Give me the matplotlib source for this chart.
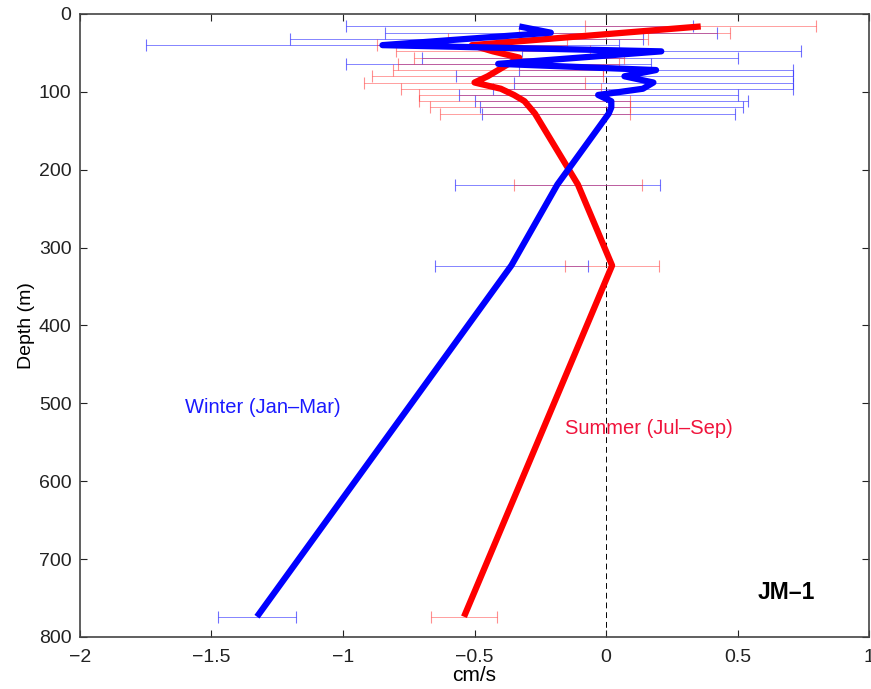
"""
Seasonal mean velocity profiles at mooring JM-1, winter vs summer.
"""

import numpy as np
import matplotlib
matplotlib.use('Agg')
import matplotlib.pyplot as plt

plt.rcParams['font.family'] = ['Liberation Sans', 'DejaVu Sans']

# Depth levels (m): upper ADCP bins plus three deep current meters
depth = [16, 24, 32, 40, 48, 56, 64, 72, 80, 88, 96, 104, 112, 120, 128,
         219, 323, 774]

# Winter (Jan-Mar) mean velocity and error half-width (cm/s)
winter_mean = [-0.33, -0.21, -0.53, -0.85, 0.21, -0.10, -0.41, 0.19, 0.07,
               0.18, 0.14, -0.03, 0.02, 0.02, 0.01,
               -0.185, -0.36, -1.327]
winter_err = [0.66, 0.63, 0.67, 0.90, 0.53, 0.60, 0.58, 0.52, 0.64,
              0.53, 0.57, 0.53, 0.52, 0.50, 0.48,
              0.39, 0.29, 0.15]

# Summer (Jul-Sep) mean velocity and error half-width (cm/s)
summer_mean = [0.36, 0.07, -0.22, -0.51, -0.43, -0.33, -0.37, -0.41, -0.45,
               -0.50, -0.40, -0.35, -0.31, -0.29, -0.27,
               -0.107, 0.023, -0.54]
summer_err = [0.44, 0.40, 0.38, 0.36, 0.37, 0.40, 0.42, 0.40, 0.44,
              0.42, 0.38, 0.36, 0.40, 0.38, 0.36,
              0.243, 0.18, 0.125]

x_ticks = [-2, -1.5, -1, -0.5, 0, 0.5, 1]
y_ticks = [0, 100, 200, 300, 400, 500, 600, 700, 800]

fig = plt.figure(figsize=(8.71, 6.89), dpi=100)
ax = fig.add_axes([0.0918, 0.0755, 0.906, 0.9042])

# thin error bars first, thick profiles on top
ax.errorbar(winter_mean, depth, xerr=winter_err, fmt='none', ecolor='#3333ff',
            elinewidth=0.6, capsize=4, capthick=0.8, alpha=0.7, zorder=2)
ax.errorbar(summer_mean, depth, xerr=summer_err, fmt='none', ecolor='#ff3333',
            elinewidth=0.6, capsize=4, capthick=0.8, alpha=0.55, zorder=2)

ax.plot(winter_mean, depth, color='#0000ff', linewidth=4.5, solid_capstyle='butt', zorder=4)
ax.plot(summer_mean, depth, color='#ff0000', linewidth=4.5, solid_capstyle='butt', zorder=3)

ax.axvline(0, color='black', linestyle=(0, (6, 4)), linewidth=0.7, zorder=1)

ax.text(-1.60, 505, 'Winter (Jan\u2013Mar)', color='#1a1aff', fontsize=14.5, va='center')
ax.text(-0.156, 532, 'Summer (Jul\u2013Sep)', color='#f0143c', fontsize=14.5, va='center')
ax.text(0.577, 743, 'JM\u20131', color='black', fontsize=16.5, fontweight='bold', va='center')

ax.set_xlim(-2, 1)
ax.set_ylim(800, 0)
ax.set_xticks(x_ticks)
ax.set_xticklabels([f'{t:g}'.replace('-', '\u2212') for t in x_ticks])
ax.set_yticks(y_ticks)
ax.set_xlabel('cm/s', fontsize=15, labelpad=0)
ax.set_ylabel('Depth (m)', fontsize=14, labelpad=3)

ax.tick_params(direction='in', top=True, right=True, length=5, width=0.8,
               labelsize=14, colors='#222222', pad=5)
ax.tick_params(axis='x', pad=9)
ax.tick_params(axis='y', pad=6)
for s in ax.spines.values():
    s.set_linewidth(1.2)
    s.set_color('#444444')

fig.savefig('out.png', dpi=100)
